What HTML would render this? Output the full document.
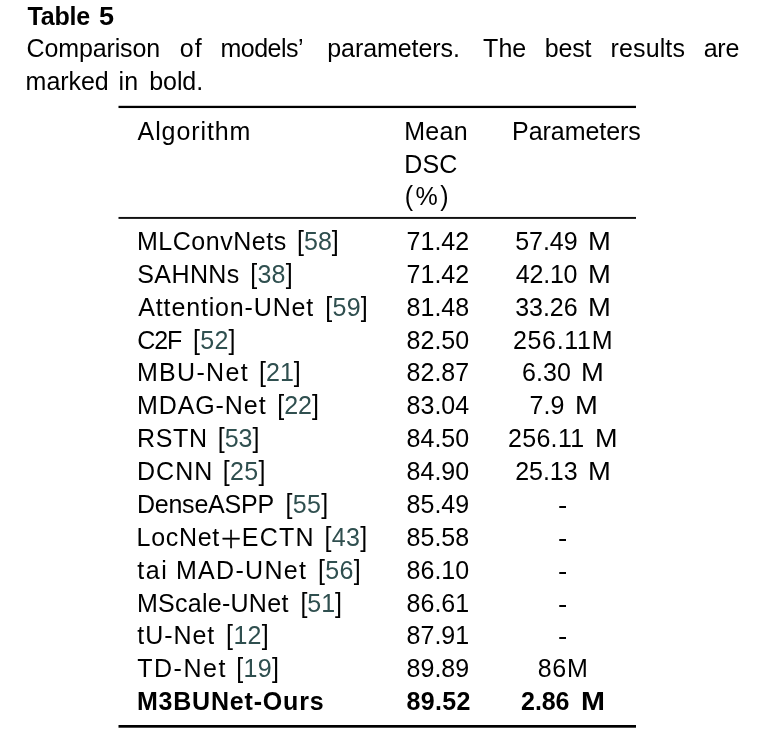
<!DOCTYPE html>
<html lang="en"><head><meta charset="utf-8"><title>Table 5</title>
<style>
html,body{margin:0;padding:0;background:#fff}
body{width:757px;height:746px;position:relative;overflow:hidden;font-family:"Liberation Sans", sans-serif;font-size:25.0px;color:#000}
.t{position:absolute;white-space:pre;line-height:25.0px;height:25.0px;transform-origin:0 0}
.b{font-weight:bold}
#pg{position:absolute;left:0;top:0;width:757px;height:746px;will-change:transform}
.k{display:inline-block;transform:scaleY(1.12);transform-origin:0 84%}
.c{color:#2f4f4f}
</style></head>
<body>
<div id="pg">
<svg width="757" height="746" viewBox="0 0 757 746" style="position:absolute;left:0;top:0">
<rect x="118.5" y="105.8" width="517.5" height="2.25" fill="#000"/>
<rect x="118.5" y="216.95" width="517.5" height="1.95" fill="#111"/>
<rect x="118.5" y="725.0" width="517.5" height="2.7" fill="#000"/>
</svg>
<div class="title">
<span class="t b" style="left:27.4px;top:3.5px;letter-spacing:-0.15px;">Table</span>
<span class="t b" style="left:99.0px;top:3.5px;transform:scale(1.083,1.0);">5</span>
</div>
<div class="caption">
<span class="t" style="left:26.5px;top:36.4px;letter-spacing:-0.123px;">Comparison</span>
<span class="t" style="left:179.8px;top:36.4px;letter-spacing:1.1px;">of</span>
<span class="t" style="left:220.5px;top:36.4px;letter-spacing:-0.517px;">models’</span>
<span class="t" style="left:327.2px;top:36.4px;letter-spacing:-0.06px;">parameters.</span>
<span class="t" style="left:483.1px;top:36.4px;letter-spacing:0.05px;">The</span>
<span class="t" style="left:544.8px;top:36.4px;letter-spacing:-0.201px;">best</span>
<span class="t" style="left:610.5px;top:36.4px;letter-spacing:0.133px;">results</span>
<span class="t" style="left:703.7px;top:36.4px;letter-spacing:-0.25px;">are</span>
<span class="t" style="left:25.6px;top:69.1px;letter-spacing:-0.04px;">marked</span>
<span class="t" style="left:118.4px;top:69.1px;letter-spacing:0.2px;">in</span>
<span class="t" style="left:149.3px;top:69.1px;letter-spacing:-0.1px;">bold.</span>
</div>
<div class="thead">
<span class="t" style="left:137.6px;top:118.7px;letter-spacing:0.9px;">Algorithm</span>
<span class="t" style="left:404.2px;top:118.7px;letter-spacing:0.333px;">Mean</span>
<span class="t" style="left:404.2px;top:151.5px;letter-spacing:0.2px;">DSC</span>
<span class="t" style="left:404.8px;top:184.4px;letter-spacing:2.45px;"><span class="k">(</span>%<span class="k">)</span></span>
<span class="t" style="left:512.1px;top:118.7px;letter-spacing:-0.056px;">Parameters</span>
</div>
<div class="tr">
<span class="t" style="left:136.9px;top:228.95px;letter-spacing:0.544px;">MLConvNets</span>
<span class="t" style="left:297.1px;top:228.95px;letter-spacing:-0.033px;"><span class="k">[</span><span class="c">58</span><span class="k">]</span></span>
<span class="t" style="left:406.6px;top:228.95px;">71.42</span>
<span class="t" style="left:515.2px;top:228.95px;letter-spacing:-0.025px;">57.49</span>
<span class="t" style="left:587.8px;top:228.95px;transform:scale(1.095,1.0);">M</span>
</div>
<div class="tr">
<span class="t" style="left:137.3px;top:261.82px;letter-spacing:0.4px;">SAHNNs</span>
<span class="t" style="left:250.2px;top:261.82px;letter-spacing:0.267px;"><span class="k">[</span><span class="c">38</span><span class="k">]</span></span>
<span class="t" style="left:406.6px;top:261.82px;">71.42</span>
<span class="t" style="left:515.8px;top:261.82px;letter-spacing:-0.225px;">42.10</span>
<span class="t" style="left:587.8px;top:261.82px;transform:scale(1.095,1.0);">M</span>
</div>
<div class="tr">
<span class="t" style="left:138.3px;top:294.69px;letter-spacing:0.846px;">Attention-UNet</span>
<span class="t" style="left:325.2px;top:294.69px;letter-spacing:0.3px;"><span class="k">[</span><span class="c">59</span><span class="k">]</span></span>
<span class="t" style="left:406.6px;top:294.69px;">81.48</span>
<span class="t" style="left:515.2px;top:294.69px;letter-spacing:-0.025px;">33.26</span>
<span class="t" style="left:587.8px;top:294.69px;transform:scale(1.095,1.0);">M</span>
</div>
<div class="tr">
<span class="t" style="left:137.3px;top:327.56px;letter-spacing:-1.15px;">C2F</span>
<span class="t" style="left:193.1px;top:327.56px;letter-spacing:0.234px;"><span class="k">[</span><span class="c">52</span><span class="k">]</span></span>
<span class="t" style="left:406.6px;top:327.56px;">82.50</span>
<span class="t" style="left:512.9px;top:327.56px;letter-spacing:0.7px;">256.11M</span>
</div>
<div class="tr">
<span class="t" style="left:136.9px;top:360.43px;letter-spacing:1.317px;">MBU-Net</span>
<span class="t" style="left:259.1px;top:360.43px;letter-spacing:-0.033px;"><span class="k">[</span><span class="c">21</span><span class="k">]</span></span>
<span class="t" style="left:406.6px;top:360.43px;">82.87</span>
<span class="t" style="left:522.1px;top:360.43px;letter-spacing:0.066px;">6.30</span>
<span class="t" style="left:581.2px;top:360.43px;transform:scale(1.095,1.0);">M</span>
</div>
<div class="tr">
<span class="t" style="left:136.9px;top:393.3px;letter-spacing:0.929px;">MDAG-Net</span>
<span class="t" style="left:277.3px;top:393.3px;letter-spacing:-0.033px;"><span class="k">[</span><span class="c">22</span><span class="k">]</span></span>
<span class="t" style="left:406.6px;top:393.3px;">83.04</span>
<span class="t" style="left:529.4px;top:393.3px;letter-spacing:0.1px;">7.9</span>
<span class="t" style="left:574.6px;top:393.3px;transform:scale(1.095,1.0);">M</span>
</div>
<div class="tr">
<span class="t" style="left:136.9px;top:426.17px;letter-spacing:0.733px;">RSTN</span>
<span class="t" style="left:217.8px;top:426.17px;letter-spacing:-0.033px;"><span class="k">[</span><span class="c">53</span><span class="k">]</span></span>
<span class="t" style="left:406.6px;top:426.17px;">84.50</span>
<span class="t" style="left:507.9px;top:426.17px;letter-spacing:0.34px;">256.11</span>
<span class="t" style="left:594.5px;top:426.17px;transform:scale(1.082,1.0);">M</span>
</div>
<div class="tr">
<span class="t" style="left:136.9px;top:459.04px;letter-spacing:1.066px;">DCNN</span>
<span class="t" style="left:222.8px;top:459.04px;letter-spacing:0.333px;"><span class="k">[</span><span class="c">25</span><span class="k">]</span></span>
<span class="t" style="left:406.6px;top:459.04px;">84.90</span>
<span class="t" style="left:515.2px;top:459.04px;letter-spacing:-0.025px;">25.13</span>
<span class="t" style="left:587.8px;top:459.04px;transform:scale(1.095,1.0);">M</span>
</div>
<div class="tr">
<span class="t" style="left:136.9px;top:491.91px;letter-spacing:-0.214px;">DenseASPP</span>
<span class="t" style="left:285.5px;top:491.91px;letter-spacing:0.333px;"><span class="k">[</span><span class="c">55</span><span class="k">]</span></span>
<span class="t" style="left:406.6px;top:491.91px;">85.49</span>
<span class="t" style="left:557.9px;top:492.91px;transform:scale(1.111,1.0);">-</span>
</div>
<div class="tr">
<span class="t" style="left:136.6px;top:524.78px;letter-spacing:0.68px;">LocNet</span><span class="t" style="left:220.0px;top:524.64px;transform:scale(1.059,1.112);"><span style="font-family:'DejaVu Sans Light','DejaVu Sans',sans-serif;font-weight:200;-webkit-text-stroke:0.55px #000">+</span></span><span class="t" style="left:241.8px;top:524.78px;letter-spacing:1.2px;">ECTN</span>
<span class="t" style="left:324.5px;top:524.78px;letter-spacing:0.333px;"><span class="k">[</span><span class="c">43</span><span class="k">]</span></span>
<span class="t" style="left:406.6px;top:524.78px;">85.58</span>
<span class="t" style="left:557.9px;top:525.78px;transform:scale(1.111,1.0);">-</span>
</div>
<div class="tr">
<span class="t" style="left:137.3px;top:557.65px;letter-spacing:1.5px;">tai</span>
<span class="t" style="left:175.9px;top:557.65px;letter-spacing:1.328px;">MAD-UNet</span>
<span class="t" style="left:317.9px;top:557.65px;letter-spacing:0.333px;"><span class="k">[</span><span class="c">56</span><span class="k">]</span></span>
<span class="t" style="left:406.6px;top:557.65px;">86.10</span>
<span class="t" style="left:557.9px;top:558.65px;transform:scale(1.111,1.0);">-</span>
</div>
<div class="tr">
<span class="t" style="left:136.9px;top:590.52px;letter-spacing:0.28px;">MScale-UNet</span>
<span class="t" style="left:300.4px;top:590.52px;letter-spacing:-0.033px;"><span class="k">[</span><span class="c">51</span><span class="k">]</span></span>
<span class="t" style="left:406.6px;top:590.52px;">86.61</span>
<span class="t" style="left:557.9px;top:591.52px;transform:scale(1.111,1.0);">-</span>
</div>
<div class="tr">
<span class="t" style="left:137.3px;top:623.39px;letter-spacing:0.94px;">tU-Net</span>
<span class="t" style="left:226.1px;top:623.39px;letter-spacing:0.333px;"><span class="k">[</span><span class="c">12</span><span class="k">]</span></span>
<span class="t" style="left:406.6px;top:623.39px;">87.91</span>
<span class="t" style="left:557.9px;top:624.39px;transform:scale(1.111,1.0);">-</span>
</div>
<div class="tr">
<span class="t" style="left:137.3px;top:656.26px;letter-spacing:1.5px;">TD-Net</span>
<span class="t" style="left:236.3px;top:656.26px;letter-spacing:0.3px;"><span class="k">[</span><span class="c">19</span><span class="k">]</span></span>
<span class="t" style="left:406.6px;top:656.26px;">89.89</span>
<span class="t" style="left:537.7px;top:656.26px;letter-spacing:0.7px;">86M</span>
</div>
<div class="tr">
<span class="t b" style="left:136.9px;top:689.13px;letter-spacing:0.808px;">M3BUNet-Ours</span>
<span class="t b" style="left:406.5px;top:689.13px;letter-spacing:0.35px;">89.52</span>
<span class="t b" style="left:521.1px;top:689.13px;letter-spacing:-0.099px;">2.86</span>
<span class="t b" style="left:581.2px;top:689.13px;transform:scale(1.149,1.0);">M</span>
</div>
</div>
</body></html>
